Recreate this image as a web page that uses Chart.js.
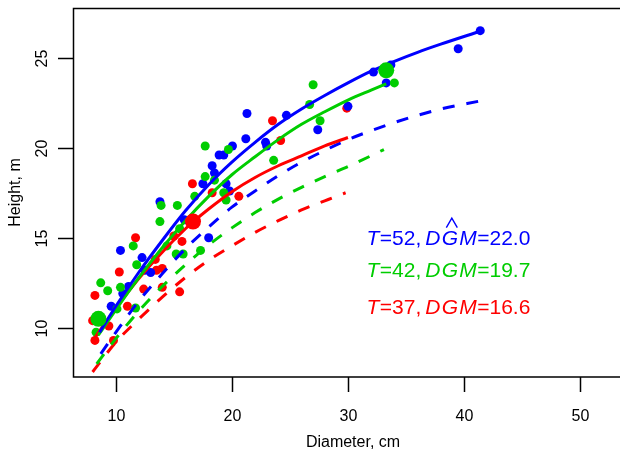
<!DOCTYPE html>
<html>
<head>
<meta charset="utf-8">
<script src="https://cdn.jsdelivr.net/npm/chart.js@4/dist/chart.umd.min.js"></script>
<style>
  html, body { margin: 0; padding: 0; background: #fff; overflow: hidden; }
  #wrap { position: relative; width: 626px; height: 451px; }
</style>
</head>
<body>
<div id="wrap"><canvas id="chart"></canvas></div>
<script>
// observed trees, diameter (cm) and height (m)
const blueD = [41.4, 39.5, 33.7, 32.2, 33.3, 30.0, 27.4, 24.7, 21.3, 21.2, 22.9, 23.0, 20.05, 18.9, 19.3, 18.3, 18.5, 17.5, 19.5, 19.8, 13.8, 15.9, 18.0, 10.4, 12.26, 12.5, 13.0, 11.1, 10.6, 9.6];
const blueH = [26.5, 25.5, 24.6, 24.2, 23.6, 22.3, 21.0, 21.8, 21.9, 20.5, 20.3, 20.1, 20.1, 19.6, 19.6, 19.0, 18.6, 18.0, 18.0, 17.6, 17.0, 16.0, 15.0, 14.3, 13.9, 13.2, 13.07, 12.3, 11.9, 11.2];

const greenD = [34.0, 27.0, 26.7, 27.6, 23.6, 17.7, 19.7, 17.7, 18.5, 19.3, 19.5, 16.8, 13.9, 15.3, 13.8, 15.5, 17.3, 14.4, 15.2, 15.8, 11.5, 11.8, 8.7, 9.3, 10.4, 11.7, 10.1, 8.3];
const greenH = [23.6, 23.5, 22.4, 21.5, 19.3, 20.1, 19.9, 18.4, 18.2, 17.5, 17.1, 17.3, 16.8, 16.8, 15.9, 15.5, 14.3, 14.55, 14.1, 14.1, 14.55, 13.5, 12.5, 12.06, 12.25, 11.1, 11.05, 9.76];

const redD = [29.9, 23.5, 24.2, 20.6, 16.6, 18.3, 15.0, 15.7, 11.7, 10.3, 13.4, 13.5, 14.0, 12.4, 14.0, 15.5, 11.0, 8.2, 8.0, 9.4, 8.2, 9.8];
const redH = [22.2, 21.5, 20.4, 17.3, 18.0, 17.5, 15.1, 14.8, 15.0, 13.1, 13.8, 13.2, 13.3, 12.15, 12.25, 12.0, 11.2, 11.8, 10.4, 10.1, 9.3, 9.3];

// big dots
const bigGreenD = [8.5, 33.3];
const bigGreenH = [10.5, 24.3];
const bigRedD = [16.65];
const bigRedH = [15.9];

// fitted curves (solid) and reference curves (dashed)
const blueFitD = [8.6, 10, 12, 14, 16, 18, 20, 22, 24, 26, 28, 30, 32, 34, 36, 38, 41.4];
const blueFitH = [9.75, 11.2, 13.1, 14.85, 16.5, 17.95, 19.2, 20.3, 21.3, 22.15, 22.9, 23.6, 24.25, 24.8, 25.3, 25.75, 26.47];
const greenFitD = [8.5, 10, 12, 14, 16, 18, 20, 22, 24, 26, 28, 30, 32, 33.3];
const greenFitH = [9.6, 11.0, 12.8, 14.45, 15.95, 17.3, 18.5, 19.5, 20.45, 21.3, 22.0, 22.65, 23.2, 23.55];
const redFitD = [8.2, 10, 12, 14, 16, 16.65, 18, 20, 22, 24, 26, 28, 30];
const redFitH = [9.45, 11.1, 12.75, 14.2, 15.5, 15.88, 16.6, 17.56, 18.35, 19.0, 19.55, 20.1, 20.57];

const blueRefD = [8.7, 10, 12, 14, 16, 18, 20, 22, 24, 26, 28, 30, 32, 34, 36, 38, 41.4];
const blueRefH = [8.56, 9.75, 11.5, 13.0, 14.4, 15.6, 16.7, 17.6, 18.45, 19.2, 19.85, 20.45, 20.95, 21.4, 21.8, 22.15, 22.6];
const greenRefD = [8.35, 10, 12, 14, 16, 18, 20, 22, 24, 26, 28, 30, 33.1];
const greenRefH = [8.0, 9.4, 10.95, 12.3, 13.5, 14.6, 15.55, 16.4, 17.15, 17.8, 18.4, 18.95, 19.9];
const redRefD = [8.0, 10, 12, 14, 16, 18, 20, 22, 24, 26, 28, 29.8];
const redRefH = [7.55, 9.2, 10.5, 11.7, 12.8, 13.75, 14.55, 15.3, 15.95, 16.55, 17.05, 17.5];

const xTicks = [10, 20, 30, 40, 50];
const yTicks = [10, 15, 20, 25];

const BLUE = '#0000ff', GREEN = '#00cd00', RED = '#ff0000';

const pts = (xs, ys) => xs.map((x, i) => ({ x: x, y: ys[i] }));

function curve(xs, ys, color, dashed) {
    return {
        data: pts(xs, ys),
        showLine: true,
        borderColor: color,
        borderWidth: 3,
        borderDash: dashed ? [12, 12] : [],
        borderCapStyle: 'butt',
        cubicInterpolationMode: 'monotone',
        pointRadius: 0,
        fill: false
    };
}

function dots(xs, ys, color, r) {
    return {
        data: pts(xs, ys),
        showLine: false,
        backgroundColor: color,
        borderWidth: 0,
        pointRadius: r,
        pointHoverRadius: r
    };
}

// text annotations in data units (left edge, baseline)
const notes = [
    { x: 31.6, y: 14.59, color: BLUE, t: '52', v: '22.0', hat: true },
    { x: 31.6, y: 12.80, color: GREEN, t: '42', v: '19.7', hat: false },
    { x: 31.6, y: 10.77, color: RED, t: '37', v: '16.6', hat: false }
];

const FONT = '"Liberation Sans", Arial, Helvetica, sans-serif';

const axesPlugin = {
    id: 'rAxes',
    afterDraw(chart) {
        const ctx = chart.ctx;
        const a = chart.chartArea;
        const xs = chart.scales.x, ys = chart.scales.y;
        ctx.save();

        // box
        ctx.strokeStyle = '#000';
        ctx.lineWidth = 1.5;
        ctx.beginPath();
        ctx.moveTo(a.right + 2, a.top + 0.5);
        ctx.lineTo(a.left + 0.5, a.top + 0.5);
        ctx.lineTo(a.left + 0.5, a.bottom);
        ctx.lineTo(a.right + 2, a.bottom);
        ctx.stroke();

        // x axis ticks
        ctx.fillStyle = '#000';
        ctx.font = '16px ' + FONT;
        ctx.textAlign = 'center';
        ctx.textBaseline = 'middle';
        xTicks.forEach(v => {
            const px = Math.round(xs.getPixelForValue(v)) + 0.5;
            ctx.beginPath();
            ctx.moveTo(px, a.bottom);
            ctx.lineTo(px, a.bottom + 15);
            ctx.stroke();
            ctx.fillText(String(v), px, a.bottom + 40);
        });

        // y axis ticks (labels rotated, R style)
        yTicks.forEach(v => {
            const py = Math.round(ys.getPixelForValue(v)) + 0.5;
            ctx.beginPath();
            ctx.moveTo(a.left, py);
            ctx.lineTo(a.left - 15, py);
            ctx.stroke();
            ctx.save();
            ctx.translate(a.left - 30, py);
            ctx.rotate(-Math.PI / 2);
            ctx.fillText(String(v), 0, 0);
            ctx.restore();
        });

        // axis titles
        ctx.fillText('Diameter, cm', 353, 443);
        ctx.save();
        ctx.translate(16, (a.top + a.bottom) / 2);
        ctx.rotate(-Math.PI / 2);
        ctx.fillText('Height, m', 0, 0);
        ctx.restore();

        // annotations, plotmath-like: italic symbols, upright numbers
        ctx.textAlign = 'left';
        ctx.textBaseline = 'alphabetic';
        const ital = 'italic 21px ' + FONT;
        const norm = '21px ' + FONT;
        notes.forEach(n => {
            let x = xs.getPixelForValue(n.x);
            const y = ys.getPixelForValue(n.y);
            ctx.fillStyle = n.color;
            ctx.strokeStyle = n.color;
            const put = (s, f, extra) => {
                ctx.font = f;
                ctx.fillText(s, x, y);
                const w = ctx.measureText(s).width;
                x += w + (extra || 0);
                return w;
            };
            put('T', ital, 0.5);
            put('=' + n.t + ',', norm, 4);
            put('D', ital, 1.2);
            const gStart = x;
            const wG = put('G', ital, 1.2);
            put('M', ital, 0.5);
            put('=' + n.v, norm);
            if (n.hat) {
                const cx = gStart + wG / 2 + 2;
                ctx.lineWidth = 1.4;
                ctx.beginPath();
                ctx.moveTo(cx - 5.5, y - 17.5);
                ctx.lineTo(cx, y - 27);
                ctx.lineTo(cx + 5.5, y - 17.5);
                ctx.stroke();
            }
        });
        ctx.restore();
    }
};

const ctx = document.getElementById('chart').getContext('2d');
const chart = new Chart(ctx, {
    type: 'scatter',
    data: {
        datasets: [
            dots(bigRedD, bigRedH, RED, 8),
            dots(bigGreenD, bigGreenH, GREEN, 8),
            curve(blueFitD, blueFitH, BLUE, false),
            curve(greenFitD, greenFitH, GREEN, false),
            curve(redFitD, redFitH, RED, false),
            curve(blueRefD, blueRefH, BLUE, true),
            curve(greenRefD, greenRefH, GREEN, true),
            curve(redRefD, redRefH, RED, true),
            dots(greenD, greenH, GREEN, 4.5),
            dots(blueD, blueH, BLUE, 4.5),
            dots(redD, redH, RED, 4.5)
        ]
    },
    options: {
        responsive: true,
        maintainAspectRatio: false,
        animation: false,
        devicePixelRatio: 1,
        layout: { padding: { left: 73, top: 6, right: 0, bottom: 74 } },
        scales: {
            x: { type: 'linear', display: false, min: 6.31, max: 53.27 },
            y: { type: 'linear', display: false, min: 7.27, max: 27.76 }
        },
        plugins: {
            legend: { display: false },
            tooltip: { enabled: false }
        }
    },
    plugins: [axesPlugin]
});
</script>
</body>
</html>
